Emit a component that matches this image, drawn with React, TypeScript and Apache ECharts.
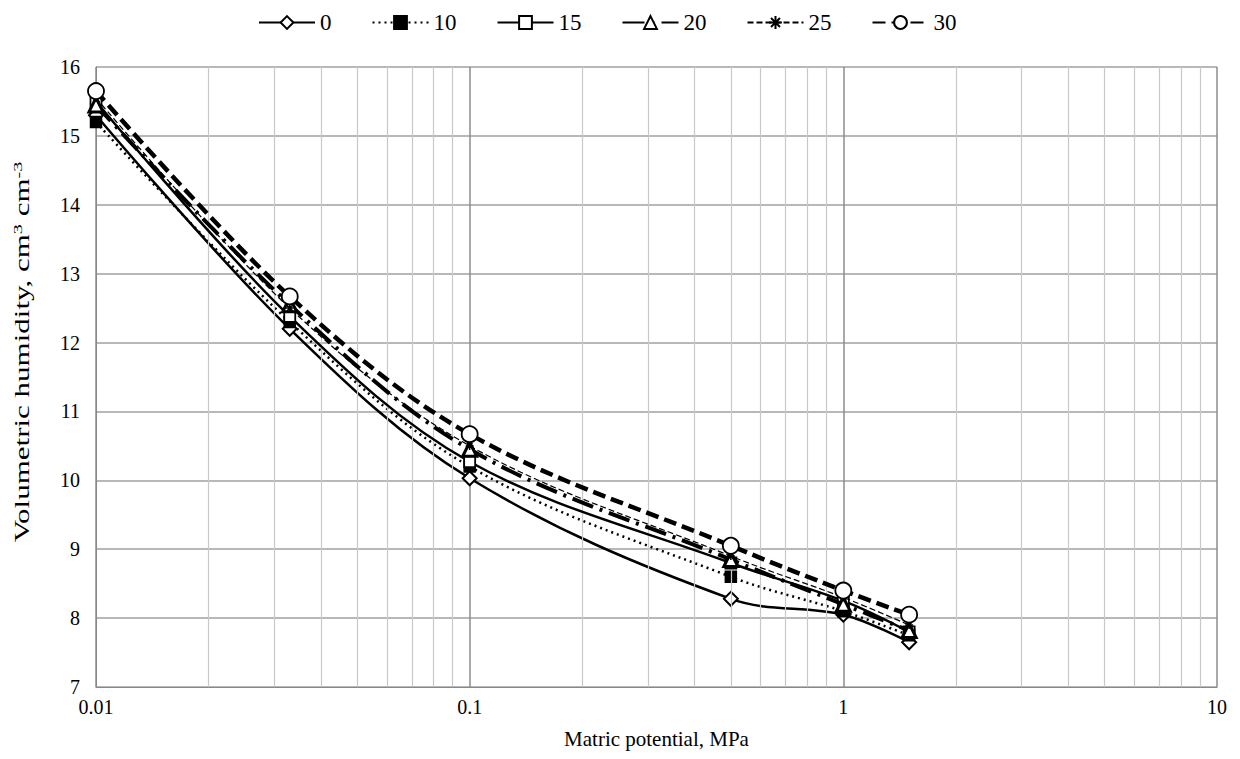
import React, { useEffect, useRef } from "react";
import * as echarts from "echarts";

const potentials = [0.01, 0.033, 0.1, 0.5, 1, 1.5];
const seriesNames = ["0", "10", "15", "20", "25", "30"];
const s0 = [15.3, 12.2, 10.03, 8.28, 8.05, 7.65];
const s10 = [15.2, 12.3, 10.2, 8.6, 8.1, 7.75];
const s15 = [15.5, 12.38, 10.27, 8.8, 8.25, 7.8];
const s20 = [15.45, 12.55, 10.45, 8.85, 8.2, 7.82];
const s25 = [15.55, 12.5, 10.5, 8.9, 8.3, 7.9];
const s30 = [15.65, 12.67, 10.67, 9.05, 8.4, 8.05];
const minorGrid = [0.02, 0.03, 0.04, 0.05, 0.06, 0.07, 0.08, 0.09, 0.2, 0.3, 0.4, 0.5, 0.6, 0.7, 0.8, 0.9, 2, 3, 4, 5, 6, 7, 8, 9];
const xTicks = [0.01, 0.1, 1, 10];
const yAxisTitle = "Volumetric humidity, cm{sup|3} cm{sup|-3}";
const xAxisTitle = "Matric potential, MPa";

const FONT = "Liberation Serif, Times New Roman, serif";
const ASTERISK = "path://M5,0 L5,10 M0,5 L10,5 M1.5,1.5 L8.5,8.5 M8.5,1.5 L1.5,8.5";

export default function App() {
  const ref = useRef<HTMLDivElement>(null);
  useEffect(() => {
    document.body.style.margin = "0";
    const chart = echarts.init(ref.current!, null, { renderer: "svg" });
    const pts = (vals: number[]) => potentials.map((p, i) => [p, vals[i]]);
    const styles: any[] = [
      { data: s0, symbol: "diamond", symbolSize: 14, fill: "#fff", bw: 2, line: { width: 2.5, type: "solid" } },
      { data: s10, symbol: "rect", symbolSize: 11, fill: "#000", bw: 1.5, line: { width: 2.5, type: [2, 4] } },
      { data: s15, symbol: "rect", symbolSize: 11, fill: "#fff", bw: 1.8, line: { width: 2.5, type: "solid" } },
      { data: s20, symbol: "triangle", symbolSize: 14, fill: "#fff", bw: 3, line: { width: 4, type: [22, 7, 3, 7] } },
      { data: s25, symbol: ASTERISK, symbolSize: 8, fill: "#000", bw: 1.5, line: { width: 1.2, type: [6, 3] } },
      { data: s30, symbol: "circle", symbolSize: 16, fill: "#fff", bw: 1.8, line: { width: 4.5, type: [13, 6] } },
    ];
    const series: any[] = styles.map((s, i) => ({
      name: seriesNames[i],
      type: "line",
      smooth: 0.35,
      data: pts(s.data),
      symbol: s.symbol,
      symbolSize: s.symbolSize,
      showSymbol: true,
      z: 3 + i,
      lineStyle: { color: "#000", width: s.line.width, type: s.line.type },
      itemStyle: { color: s.fill, borderColor: "#000", borderWidth: s.bw },
    }));
    series.push({
      name: "grid",
      type: "line",
      data: [[0.01, null]],
      symbol: "none",
      z: 1,
      silent: true,
      markLine: {
        silent: true,
        symbol: ["none", "none"],
        label: { show: false },
        lineStyle: { color: "#c8c8c8", width: 1.2, type: "solid" },
        data: minorGrid.map((v) => ({ xAxis: v })),
      },
    });
    chart.setOption({
      animation: false,
      backgroundColor: "#fff",
      textStyle: { fontFamily: FONT },
      legend: {
        data: seriesNames,
        top: 6,
        left: 253,
        itemWidth: 56,
        itemHeight: 16,
        itemGap: 40,
        textStyle: { fontFamily: FONT, fontSize: 23, color: "#000" },
      },
      grid: { left: 96, right: 23, top: 67, bottom: 72 },
      graphic: [
        {
          type: "text",
          x: 22,
          y: 352,
          rotation: Math.PI / 2,
          scaleX: 1.55,
          style: {
            text: yAxisTitle,
            fontFamily: FONT,
            fontSize: 20,
            fill: "#000",
            align: "center",
            verticalAlign: "middle",
            rich: { sup: { fontFamily: FONT, fontSize: 13, fill: "#000", padding: [0, 0, 9, 0] } },
          },
        },
      ],
      xAxis: {
        type: "log",
        logBase: 10,
        min: xTicks[0],
        max: xTicks[xTicks.length - 1],
        name: xAxisTitle,
        nameLocation: "middle",
        nameGap: 41,
        nameTextStyle: { fontFamily: FONT, fontSize: 21, color: "#000" },
        axisLine: { show: true, lineStyle: { color: "#888", width: 1 } },
        axisTick: { show: false },
        axisLabel: { fontFamily: FONT, fontSize: 20, color: "#000", margin: 10 },
        splitLine: { show: true, lineStyle: { color: "#8c8c8c", width: 1.5 } },
      },
      yAxis: {
        type: "value",
        min: 7,
        max: 16,
        interval: 1,
        axisLine: { show: true, lineStyle: { color: "#888", width: 1 } },
        axisTick: { show: false },
        axisLabel: { fontFamily: FONT, fontSize: 20, color: "#000", margin: 16 },
        splitLine: { show: true, lineStyle: { color: "#a0a0a0", width: 1.5 } },
      },
      series,
    });
    return () => chart.dispose();
  }, []);
  return <div ref={ref} style={{ width: 1240, height: 759 }} />;
}
